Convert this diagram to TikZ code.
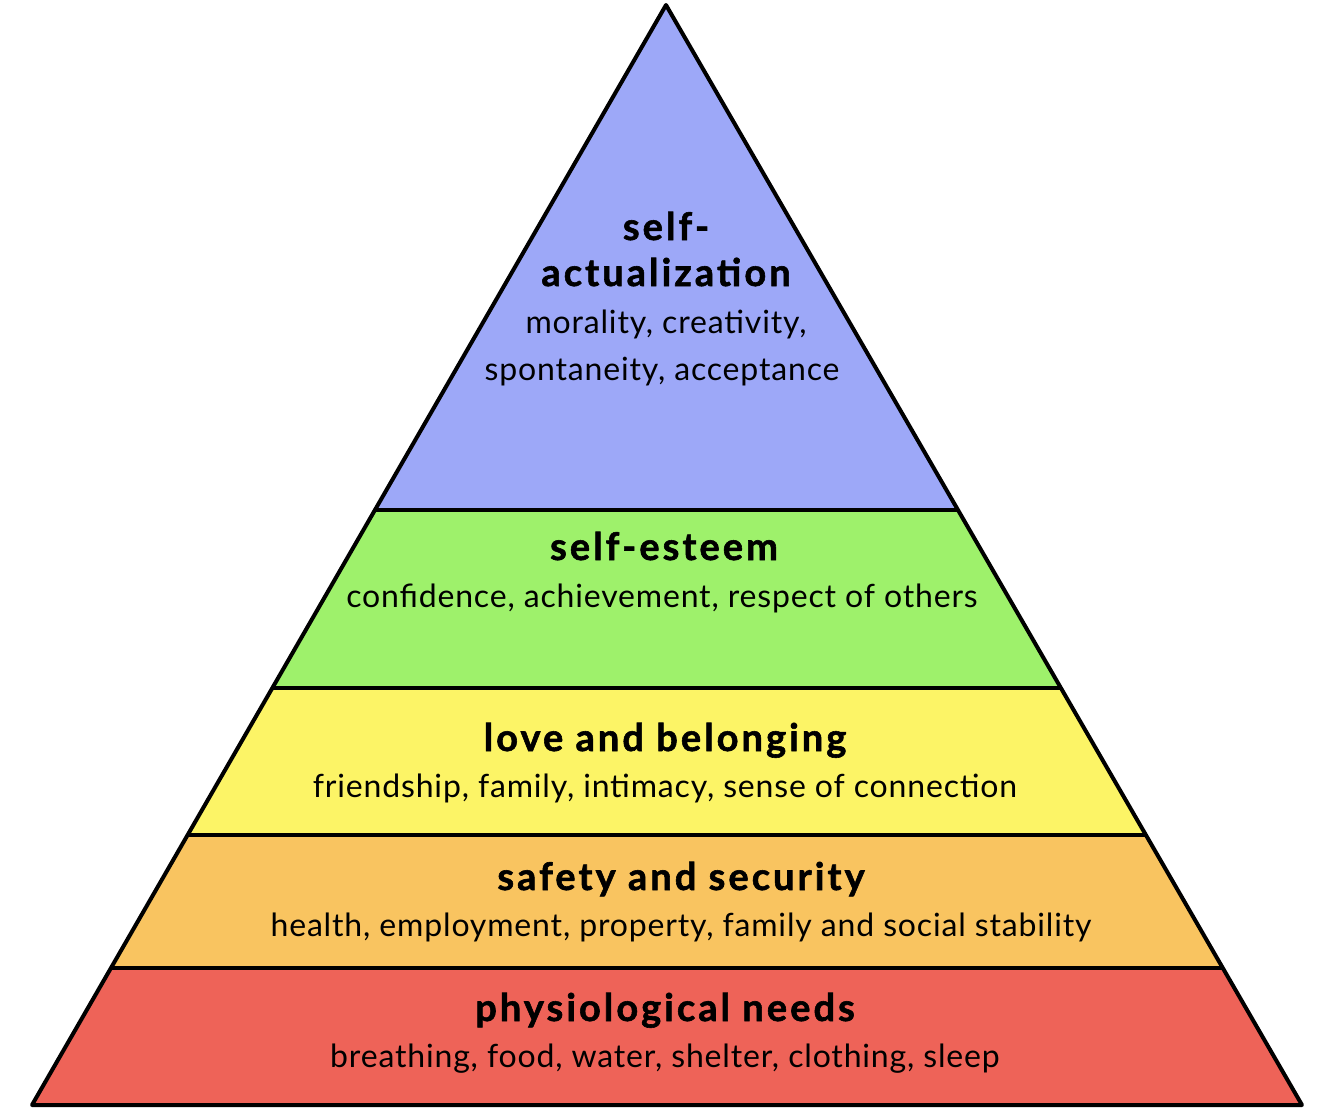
\documentclass[tikz,border=0pt]{standalone}
\usepackage{fontspec}
\setmainfont{Lato}
\definecolor{cblue}{RGB}{157,168,248}
\definecolor{cgreen}{RGB}{158,241,107}
\definecolor{cyellow}{RGB}{252,244,102}
\definecolor{corange}{RGB}{249,196,96}
\definecolor{cred}{RGB}{238,99,88}
\begin{document}
\begin{tikzpicture}[x=0.5pt,y=-0.5pt,
  layer/.style={draw=black,line width=2pt,line join=round},
  title/.style={font=\fontsize{19}{22}\selectfont\bfseries\addfontfeatures{LetterSpace=8,FakeBold=1.5},inner sep=0pt,anchor=base},
  sub/.style={font=\fontsize{16}{19}\selectfont\addfontfeatures{LetterSpace=2.6},inner sep=0pt,anchor=base}]
\useasboundingbox[fill=white] (0,0) rectangle (1334,1119);
\coordinate (A) at (666,5);
\coordinate (L1) at (375,510); \coordinate (R1) at (958,510);
\coordinate (L2) at (272,688); \coordinate (R2) at (1061,688);
\coordinate (L3) at (188,835); \coordinate (R3) at (1147,835);
\coordinate (L4) at (111,968); \coordinate (R4) at (1224,968);
\coordinate (L5) at (32,1105); \coordinate (R5) at (1302,1105);
\fill[cblue] (A) -- (R1) -- (L1) -- cycle;
\fill[cgreen] (L1) -- (R1) -- (R2) -- (L2) -- cycle;
\fill[cyellow] (L2) -- (R2) -- (R3) -- (L3) -- cycle;
\fill[corange] (L3) -- (R3) -- (R4) -- (L4) -- cycle;
\fill[cred] (L4) -- (R4) -- (R5) -- (L5) -- cycle;
\draw[layer] (A) -- (R5) -- (L5) -- cycle;
\draw[layer] (L1) -- (R1);
\draw[layer] (L2) -- (R2);
\draw[layer] (L3) -- (R3);
\draw[layer] (L4) -- (R4);
\node[title] (t1a) at (666,240) {self-};
\node[title] (t1b) at (666,286) {actualization};
\node[sub] (s1a) at (666,333) {morality, creativity,};
\node[sub] (s1b) at (662,380) {spontaneity, acceptance};
\node[title] (t2) at (664,560) {self-esteem};
\node[sub] (s2) at (662,607) {confidence, achievement, respect of others};
\node[title] (t3) at (665,751) {love and belonging};
\node[sub] (s3) at (665,797) {friendship, family, intimacy, sense of connection};
\node[title] (t4) at (681,890) {safety and security};
\node[sub] (s4) at (681,936) {health, employment, property, family and social stability};
\node[title] (t5) at (665,1021) {physiological needs};
\node[sub] (s5) at (665,1067) {breathing, food, water, shelter, clothing, sleep};
\end{tikzpicture}
\end{document}
